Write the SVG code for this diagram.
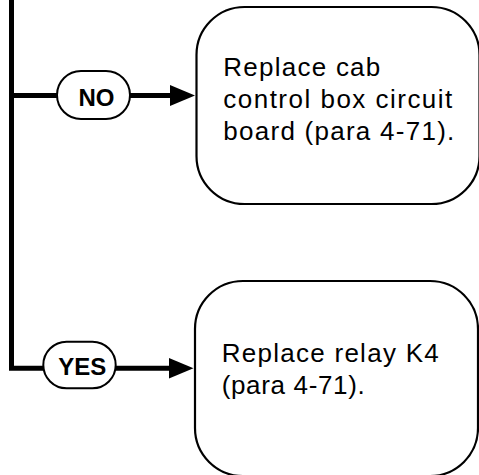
<svg xmlns="http://www.w3.org/2000/svg" width="479" height="475" viewBox="0 0 479 475">
<defs>
<style>
.box{fill:#fff;stroke:#000;stroke-width:2.2}
.pill{fill:#fff;stroke:#000;stroke-width:2}
.con{fill:none;stroke:#000;stroke-width:5;stroke-linejoin:miter;stroke-linecap:butt}
.lbl{font-family:"Liberation Sans",Arial,sans-serif;font-weight:bold;font-size:24px;fill:#000;text-anchor:middle}
.txt{font-family:"Liberation Sans",Arial,sans-serif;font-size:26px;fill:#000}
</style>
<marker id="arr" markerUnits="userSpaceOnUse" markerWidth="26" markerHeight="22" refX="5" refY="10.5" orient="auto">
<path d="M0,0 L25,10.5 L0,21 Z" fill="#000"/>
</marker>
</defs>
<rect width="479" height="475" fill="#fff"/>
<g id="connectors">
<path class="con" d="M11.5,0 V368.3 H44"/>
<path class="con" d="M11.5,95.5 H57"/>
<path class="con" d="M130,95.5 H175" marker-end="url(#arr)"/>
<path class="con" d="M116,368.3 H173.5" marker-end="url(#arr)"/>
</g>
<g id="node-no">
<rect class="pill" x="57" y="71" width="73" height="48" rx="24"/>
<text class="lbl" x="96.5" y="106">NO</text>
</g>
<g id="node-yes">
<rect class="pill" x="43.3" y="341.7" width="72.4" height="46.6" rx="23.3"/>
<text class="lbl" x="82.2" y="375">YES</text>
</g>
<g id="node-replace-board">
<rect class="box" x="196.5" y="7" width="283" height="197" rx="48"/>
<text class="txt"><tspan x="223.3" y="76" textLength="157" lengthAdjust="spacing">Replace cab</tspan><tspan x="223.3" y="108" textLength="229" lengthAdjust="spacing">control box circuit</tspan><tspan x="223.3" y="140" textLength="231" lengthAdjust="spacing">board (para 4-71).</tspan></text>
</g>
<g id="node-replace-relay">
<rect class="box" x="195" y="281" width="283" height="195" rx="48"/>
<text class="txt"><tspan x="221.7" y="361.7" textLength="217" lengthAdjust="spacing">Replace relay K4</tspan><tspan x="221.7" y="394" textLength="143" lengthAdjust="spacing">(para 4-71).</tspan></text>
</g>
</svg>
